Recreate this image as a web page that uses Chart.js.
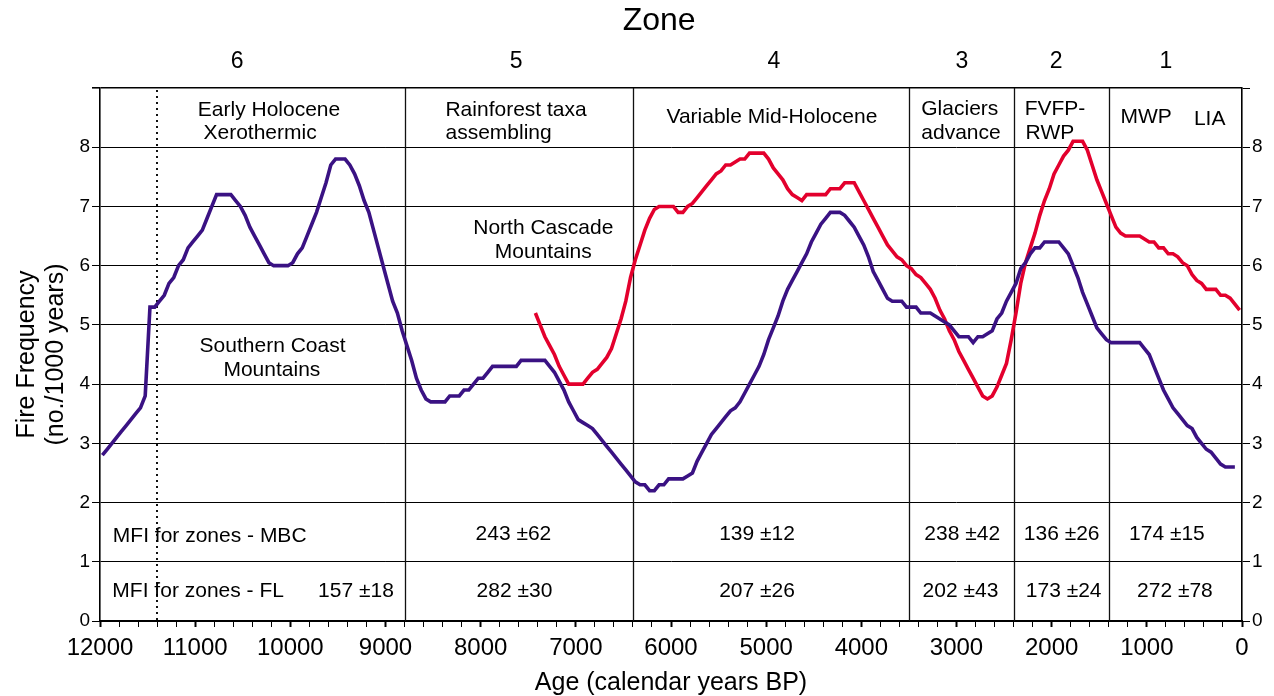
<!DOCTYPE html>
<html>
<head>
<meta charset="utf-8">
<title>Fire Frequency</title>
<script src="https://cdn.jsdelivr.net/npm/chart.js@4/dist/chart.umd.min.js"></script>
<style>
  body { margin: 0; background: #fff; }
  canvas { display: block; }
</style>
</head>
<body>
<canvas id="chart" width="1274" height="696"></canvas>
<script>
// ages in calendar years BP, one value every 50 years
const sampleStep = 50;

// Southern Coast Mountains (purple), 11975 BP -> 75 BP
const southStart = 11975;
const southCoast = [
  2.8, 2.9, 3.0, 3.1, 3.2, 3.3, 3.4, 3.5, 3.6, 3.8, 5.3, 5.3, 5.4, 5.5, 5.7, 5.8, 6.0, 6.1, 6.3, 6.4,
  6.5, 6.6, 6.8, 7.0, 7.2, 7.2, 7.2, 7.2, 7.1, 7.0, 6.85, 6.65, 6.5, 6.35, 6.2, 6.05, 6.0, 6.0, 6.0, 6.0,
  6.05, 6.2, 6.3, 6.5, 6.7, 6.9, 7.15, 7.4, 7.7, 7.8, 7.8, 7.8, 7.7, 7.55, 7.35, 7.1, 6.9, 6.6, 6.3, 6.0,
  5.7, 5.4, 5.2, 4.9, 4.65, 4.4, 4.1, 3.9, 3.75, 3.7, 3.7, 3.7, 3.7, 3.8, 3.8, 3.8, 3.9, 3.9, 4.0, 4.1,
  4.1, 4.2, 4.3, 4.3, 4.3, 4.3, 4.3, 4.3, 4.4, 4.4, 4.4, 4.4, 4.4, 4.4, 4.3, 4.2, 4.05, 3.9, 3.7, 3.55,
  3.4, 3.35, 3.3, 3.25, 3.15, 3.05, 2.95, 2.85, 2.75, 2.65, 2.55, 2.45, 2.35, 2.3, 2.3, 2.2, 2.2, 2.3, 2.3, 2.4,
  2.4, 2.4, 2.4, 2.45, 2.5, 2.7, 2.85, 3.0, 3.15, 3.25, 3.35, 3.45, 3.55, 3.6, 3.7, 3.85, 4.0, 4.15, 4.3, 4.5,
  4.75, 4.95, 5.15, 5.4, 5.6, 5.75, 5.9, 6.05, 6.2, 6.4, 6.55, 6.7, 6.8, 6.9, 6.9, 6.9, 6.85, 6.75, 6.65, 6.5,
  6.35, 6.15, 5.9, 5.75, 5.6, 5.45, 5.4, 5.4, 5.4, 5.3, 5.3, 5.3, 5.2, 5.2, 5.2, 5.15, 5.1, 5.05, 5.0, 4.9,
  4.8, 4.8, 4.8, 4.7, 4.8, 4.8, 4.85, 4.9, 5.1, 5.2, 5.4, 5.55, 5.7, 5.95, 6.05, 6.2, 6.3, 6.3, 6.4, 6.4,
  6.4, 6.4, 6.3, 6.2, 6.0, 5.8, 5.55, 5.35, 5.15, 4.95, 4.85, 4.75, 4.7, 4.7, 4.7, 4.7, 4.7, 4.7, 4.7, 4.6,
  4.5, 4.3, 4.1, 3.9, 3.75, 3.6, 3.5, 3.4, 3.3, 3.25, 3.1, 3.0, 2.9, 2.85, 2.75, 2.65, 2.6, 2.6, 2.6
];

// North Cascade Mountains (red), 7425 BP -> 25 BP
const northStart = 7425;
const northCascade = [
  5.2, 5.0, 4.8, 4.65, 4.5, 4.3, 4.15, 4.0, 4.0,
  4.0, 4.0, 4.1, 4.2, 4.25, 4.35, 4.45, 4.6, 4.85, 5.1, 5.4, 5.8, 6.1, 6.35, 6.6, 6.8, 6.95, 7.0, 7.0, 7.0,
  7.0, 6.9, 6.9, 7.0, 7.05, 7.15, 7.25, 7.35, 7.45, 7.55, 7.6, 7.7, 7.7, 7.75, 7.8, 7.8, 7.9, 7.9, 7.9, 7.9,
  7.8, 7.65, 7.55, 7.45, 7.3, 7.2, 7.15, 7.1, 7.2, 7.2, 7.2, 7.2, 7.2, 7.3, 7.3, 7.3, 7.4, 7.4, 7.4, 7.25,
  7.1, 6.95, 6.8, 6.65, 6.5, 6.35, 6.25, 6.15, 6.1, 6.0, 5.95, 5.85, 5.8, 5.7, 5.6, 5.45, 5.25, 5.1, 4.9, 4.75,
  4.55, 4.4, 4.25, 4.1, 3.95, 3.8, 3.75, 3.8, 3.95, 4.15, 4.35, 4.75, 5.2, 5.7, 6.05, 6.3, 6.55, 6.85, 7.1, 7.3,
  7.55, 7.7, 7.85, 7.95, 8.1, 8.1, 8.1, 7.95, 7.7, 7.45, 7.25, 7.05, 6.85, 6.65, 6.55, 6.5, 6.5, 6.5, 6.5, 6.45,
  6.4, 6.4, 6.3, 6.3, 6.2, 6.2, 6.15, 6.05, 6.0, 5.85, 5.75, 5.7, 5.6, 5.6, 5.6, 5.5, 5.5, 5.45, 5.35, 5.25
];

// zones (boundaries in years BP) and their texts
const zoneBounds = [8800, 6400, 3500, 2400, 1400];
const dottedAge = 11400;
const zoneNumbers = ['6', '5', '4', '3', '2', '1'];
const zoneNames = ['Early Holocene', 'Xerothermic', 'Rainforest taxa', 'assembling', 'Variable Mid-Holocene',
  'Glaciers', 'advance', 'FVFP-', 'RWP', 'MWP', 'LIA'];
const regionNames = ['North Cascade', 'Mountains', 'Southern Coast', 'Mountains'];
const mfiRowLabels = ['MFI for zones - MBC', 'MFI for zones - FL'];
const mfiMBC = ['', '243 ±62', '139 ±12', '238 ±42', '136 ±26', '174 ±15'];
const mfiFL = ['157 ±18', '282 ±30', '207 ±26', '202 ±43', '173 ±24', '272 ±78'];
const yTickLabels = ['0', '1', '2', '3', '4', '5', '6', '7', '8', ''];

const FONT = '"Liberation Sans", Arial, Helvetica, sans-serif';
Chart.defaults.font.family = FONT;
Chart.defaults.color = '#000';

const toPoints = (start, vals) => vals.map((v, i) => ({ x: start - i * sampleStep, y: v }));

// zone lines below the curves, all texts on top
const overlay = {
    id: 'overlay',
    beforeDatasetsDraw(chart) {
        const { ctx, chartArea: a, scales: { x } } = chart;
        ctx.save();
        ctx.strokeStyle = '#111';
        ctx.lineWidth = 1.3;
        zoneBounds.forEach(age => {
            const px = Math.round(x.getPixelForValue(age)) + 0.5;
            ctx.beginPath();
            ctx.moveTo(px, a.top);
            ctx.lineTo(px, a.bottom);
            ctx.stroke();
        });
        ctx.setLineDash([2, 4]);
        ctx.lineWidth = 2;
        const dx = Math.round(x.getPixelForValue(dottedAge));
        ctx.beginPath();
        ctx.moveTo(dx, a.top + 2);
        ctx.lineTo(dx, a.bottom);
        ctx.stroke();
        ctx.restore();
    },
    afterDraw(chart) {
        const { ctx, scales: { x, y } } = chart;
        ctx.save();
        ctx.fillStyle = '#000';
        ctx.textBaseline = 'middle';
        const put = (text, age, val, align, size) => {
            ctx.font = size + 'px ' + FONT;
            ctx.textAlign = align;
            ctx.fillText(text, x.getPixelForValue(age), y.getPixelForValue(val));
        };

        // header
        ctx.font = '32px ' + FONT;
        ctx.textAlign = 'center';
        ctx.fillText('Zone', x.getPixelForValue(6125), 21);
        const numAges = [10560, 7628, 4918, 2942, 1954, 799];
        ctx.font = '23px ' + FONT;
        zoneNumbers.forEach((n, i) => ctx.fillText(n, x.getPixelForValue(numAges[i]), 62));

        // zone names
        put(zoneNames[0], 10224, 8.63, 'center', 21);
        put(zoneNames[1], 10318, 8.23, 'center', 21);
        put(zoneNames[2], 8370, 8.63, 'left', 21);
        put(zoneNames[3], 8370, 8.23, 'left', 21);
        put(zoneNames[4], 4940, 8.5, 'center', 21);
        put(zoneNames[5], 3370, 8.65, 'left', 21);
        put(zoneNames[6], 3370, 8.24, 'left', 21);
        put(zoneNames[7], 2284, 8.65, 'left', 21);
        put(zoneNames[8], 2274, 8.24, 'left', 21);
        put(zoneNames[9], 1277, 8.5, 'left', 21);
        put(zoneNames[10], 505, 8.47, 'left', 21);

        // region labels
        put(regionNames[0], 7342, 6.63, 'center', 21);
        put(regionNames[1], 7342, 6.22, 'center', 21);
        put(regionNames[2], 10187, 4.64, 'center', 21);
        put(regionNames[3], 10194, 4.24, 'center', 21);

        // mean fire intervals
        put(mfiRowLabels[0], 11865, 1.43, 'left', 21);
        put(mfiRowLabels[1], 11870, 0.5, 'left', 21);
        const mbcAges = [0, 7656, 5096, 2940, 1895, 789];
        const flAges = [9310, 7645, 5096, 2958, 1874, 705];
        mfiMBC.forEach((t, i) => { if (t) put(t, mbcAges[i], 1.46, 'center', 21); });
        mfiFL.forEach((t, i) => put(t, flAges[i], 0.5, 'center', 21));
        ctx.restore();
    }
};

const yTicks = {
    stepSize: 1,
    font: { size: 19 },
    padding: 2,
    callback: v => yTickLabels[v]
};

new Chart(document.getElementById('chart'), {
    type: 'line',
    data: {
        datasets: [
            {
                label: 'Southern Coast Mountains',
                data: toPoints(southStart, southCoast),
                borderColor: '#3a1283',
                borderWidth: 3.6,
                pointRadius: 0
            },
            {
                label: 'North Cascade Mountains',
                data: toPoints(northStart, northCascade),
                borderColor: '#e3002d',
                borderWidth: 3.6,
                pointRadius: 0
            }
        ]
    },
    options: {
        responsive: false,
        devicePixelRatio: 1,
        animation: false,
        layout: { padding: { top: 88, left: 0, right: 0, bottom: 0 } },
        plugins: {
            legend: { display: false },
            tooltip: { enabled: false }
        },
        scales: {
            x: {
                type: 'linear',
                reverse: true,
                min: 0,
                max: 12000,
                ticks: {
                    stepSize: 200,
                    autoSkip: false,
                    maxRotation: 0,
                    font: { size: 24 },
                    padding: 7,
                    callback: v => (v % 1000 === 0 ? String(v) : '')
                },
                grid: {
                    drawOnChartArea: false,
                    color: '#000',
                    tickLength: 6,
                    tickWidth: c => (c.tick && c.tick.value % 1000 === 0 ? 2 : 1)
                },
                border: { display: true, color: '#000', width: 2 },
                title: {
                    display: true,
                    text: 'Age (calendar years BP)',
                    font: { size: 25, lineHeight: 1.05 },
                    padding: { top: 0, bottom: 0 }
                },
                afterFit: s => { s.height = 75; }
            },
            y: {
                position: 'left',
                min: 0,
                max: 9,
                ticks: yTicks,
                grid: {
                    color: '#000',
                    lineWidth: c => (c.tick && c.tick.value === 9 ? 1.6 : 1),
                    tickLength: 8
                },
                border: { display: true, color: '#000', width: 1.6 },
                title: {
                    display: true,
                    text: ['Fire Frequency', '(no./1000 years)'],
                    font: { size: 25, lineHeight: 1.16 },
                    padding: { top: 12.5, bottom: 0 }
                },
                afterFit: s => { s.width = 100; }
            },
            y2: {
                position: 'right',
                min: 0,
                max: 9,
                ticks: yTicks,
                grid: { drawOnChartArea: false, color: '#000', tickLength: 8 },
                border: { display: true, color: '#000', width: 1.6 },
                afterFit: s => { s.width = 32; }
            }
        }
    },
    plugins: [overlay]
});
</script>
</body>
</html>
